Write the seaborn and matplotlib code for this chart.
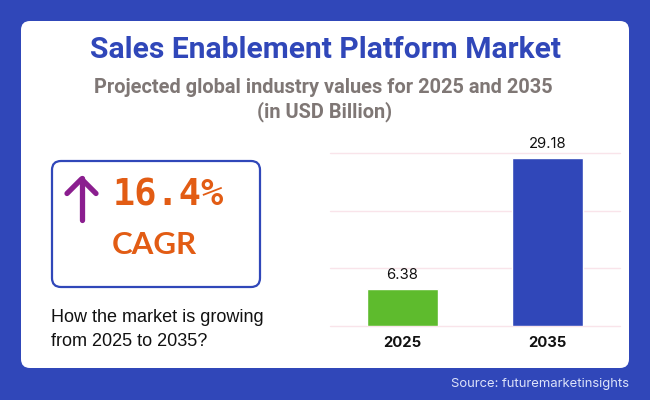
import matplotlib
matplotlib.use("Agg")
import matplotlib.pyplot as plt
from matplotlib.patches import FancyBboxPatch
import pandas as pd
import seaborn as sns

years = ["2025", "2035"]
values = [6.38, 29.18]
bar_colors = ["#5EBB2D", "#3047B9"]
y_ticks = [0, 10, 20, 30]

BLUE = "#3047B9"
ORANGE = "#E25C14"
PURPLE = "#8B1E8F"
GREY = "#7F7775"

sns.set_theme(style="white")
plt.rcParams["font.family"] = ["Liberation Sans", "DejaVu Sans"]

fig = plt.figure(figsize=(6.5, 4), dpi=100, facecolor=BLUE)

# background layer in pixel coords
bg = fig.add_axes([0, 0, 1, 1], zorder=0)
bg.set_xlim(0, 650)
bg.set_ylim(400, 0)
bg.axis("off")

bg.add_patch(FancyBboxPatch((21, 21), 608, 347, boxstyle="round,pad=0,rounding_size=9",
                            fc="white", ec="none"))
bg.add_patch(FancyBboxPatch((52, 161), 208, 126, boxstyle="round,pad=0,rounding_size=9",
                            fc="white", ec=BLUE, lw=1.6))

bg.text(325.5, 50.5, "Sales Enablement Platform Market", color=BLUE, fontsize=21.6,
        family="Roboto", weight="bold", ha="center", va="center")
bg.text(323, 87.5, "Projected global industry values for 2025 and 2035", color=GREY,
        fontsize=14.45, family="Roboto", weight="bold", ha="center", va="center")
bg.text(325, 112, "(in USD Billion)", color=GREY, fontsize=14.45,
        family="Roboto", weight="bold", ha="center", va="center")

# arrow
bg.plot([81.5, 81.5], [178, 220], color=PURPLE, lw=3.8, solid_capstyle="round")
bg.plot([67, 81.5, 96], [193.5, 179, 193.5], color=PURPLE, lw=3.8,
        solid_capstyle="round", solid_joinstyle="round")

bg.text(112.5, 195, "16.4%", color=ORANGE, fontsize=26.6, family="DejaVu Sans Mono", weight="bold",
        va="center", ha="left")
bg.text(112, 245, "CAGR", color=ORANGE, fontsize=22.5, family="Lato", weight="bold",
        va="center", ha="left")

bg.text(51, 317, "How the market is growing", color="#111111", fontsize=12.95, va="center")
bg.text(51, 341, "from 2025 to 2035?", color="#111111", fontsize=12.95, va="center")

bg.text(629, 384, "Source: futuremarketinsights", color="#DDE3FA", fontsize=9.4,
        family="Inter", ha="right", va="center")

# bar chart
ax = fig.add_axes([330 / 650, 1 - 326 / 400, 290 / 650, 173 / 400], zorder=1)
ax.patch.set_alpha(0)
df = pd.DataFrame({"year": years, "value": values})
sns.barplot(data=df, x="year", y="value", hue="year", palette=bar_colors, legend=False,
            width=0.483, saturation=1, ax=ax)
ax.set_xlim(-0.5, 1.5)
ax.set_ylim(0, 30)
ax.set_yticks(y_ticks)
ax.set_yticklabels([])
ax.grid(axis="y", color="#F9E4EA", lw=1)
for line in ax.get_ygridlines():
    line.set_clip_on(False)
ax.set_axisbelow(True)
ax.set_xlabel("")
ax.set_ylabel("")
sns.despine(ax=ax, left=True, bottom=True)
ax.tick_params(axis="both", length=0)
ax.tick_params(axis="x", pad=7)
for lab in ax.get_xticklabels():
    lab.set_family("Inter")
    lab.set_weight("bold")
    lab.set_fontsize(10.7)
    lab.set_color("#111111")
for c in ax.containers:
    ax.bar_label(c, fmt="%.2f", padding=5, fontsize=10.7, family="Inter", color="#111111")
for s in ax.spines.values():
    s.set_visible(False)

fig.savefig("out.png", dpi=100, facecolor=BLUE)
